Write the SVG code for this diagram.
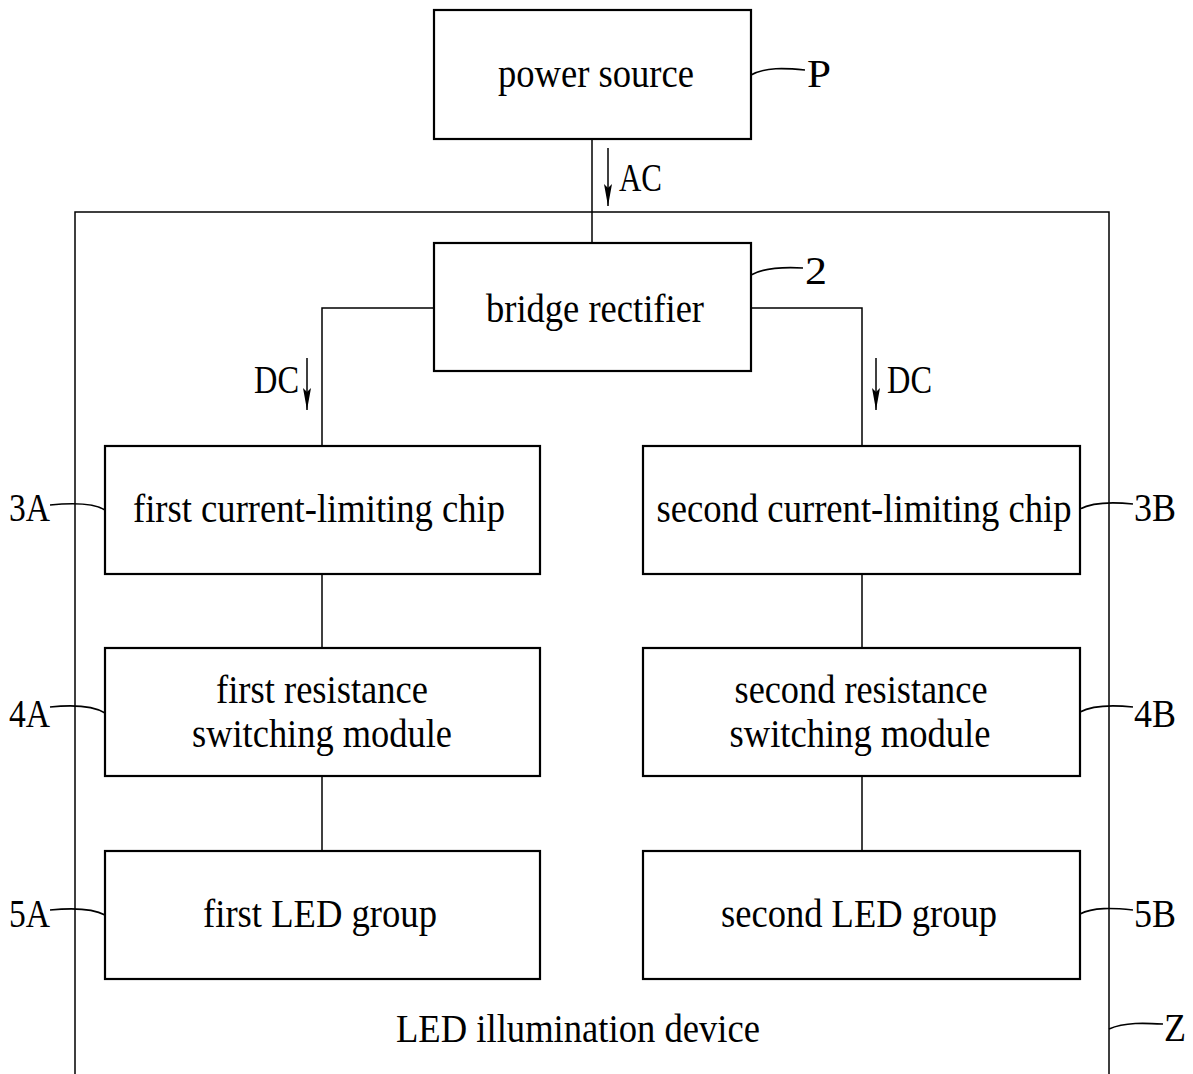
<svg xmlns="http://www.w3.org/2000/svg" width="1193" height="1074" viewBox="0 0 1193 1074">
<style>
.box{fill:#fff;stroke:#000;stroke-width:2.2}
.ln{fill:none;stroke:#000;stroke-width:1.5}
.ld{fill:none;stroke:#000;stroke-width:1.6}
text{font-family:"Liberation Serif","Times New Roman",serif;font-size:40px;fill:#000}
.c{text-anchor:middle}
</style>
<defs>
<marker id="ah" viewBox="0 0 22 8" refX="22" refY="4" markerWidth="22" markerHeight="8" markerUnits="userSpaceOnUse" orient="auto">
<path d="M0,0 L22,4 L0,8 L4,4 Z" fill="#000"/>
</marker>
</defs>
<rect width="1193" height="1074" fill="#fff"/>
<g id="Z">
<path class="ln" d="M75,1074 V212 H1109 V1074"/>
<text x="578" y="1042" class="c" textLength="364" lengthAdjust="spacingAndGlyphs">LED illumination device</text>
<path class="ld" d="M1109,1029 C1125,1022 1145,1023 1163,1024"/>
<text x="1164" y="1041" textLength="22" lengthAdjust="spacingAndGlyphs">Z</text>
</g>
<g id="connectors">
<line class="ln" x1="592" y1="139" x2="592" y2="243"/>
<path class="ln" d="M434,308 H322 V446"/>
<path class="ln" d="M751,308 H862 V446"/>
<line class="ln" x1="322" y1="574" x2="322" y2="648"/>
<line class="ln" x1="322" y1="776" x2="322" y2="851"/>
<line class="ln" x1="862" y1="574" x2="862" y2="648"/>
<line class="ln" x1="862" y1="776" x2="862" y2="851"/>
<line class="ln" x1="608" y1="148" x2="608" y2="206" marker-end="url(#ah)"/>
<text x="619" y="191" textLength="43" lengthAdjust="spacingAndGlyphs">AC</text>
<line class="ln" x1="307" y1="358" x2="307" y2="410" marker-end="url(#ah)"/>
<text x="254" y="393" textLength="45" lengthAdjust="spacingAndGlyphs">DC</text>
<line class="ln" x1="876" y1="358" x2="876" y2="410" marker-end="url(#ah)"/>
<text x="887" y="393" textLength="45" lengthAdjust="spacingAndGlyphs">DC</text>
</g>
<g id="P">
<rect class="box" x="434" y="10" width="317" height="129"/>
<text x="596" y="87" class="c" textLength="196" lengthAdjust="spacingAndGlyphs">power source</text>
<path class="ld" d="M751,75 C765,67 785,68 805,70"/>
<text x="807" y="87" textLength="24" lengthAdjust="spacingAndGlyphs">P</text>
</g>
<g id="n2">
<rect class="box" x="434" y="243" width="317" height="128"/>
<text x="595" y="322" class="c" textLength="218" lengthAdjust="spacingAndGlyphs">bridge rectifier</text>
<path class="ld" d="M751,275 C765,267 785,267 803,268"/>
<text x="805" y="284" textLength="22" lengthAdjust="spacingAndGlyphs">2</text>
</g>
<g id="n3A">
<rect class="box" x="105" y="446" width="435" height="128"/>
<text x="319" y="522" class="c" textLength="372" lengthAdjust="spacingAndGlyphs">first current-limiting chip</text>
<path class="ld" d="M105,510 C92,502 70,503 50,505"/>
<text x="9" y="521" textLength="41" lengthAdjust="spacingAndGlyphs">3A</text>
</g>
<g id="n3B">
<rect class="box" x="643" y="446" width="437" height="128"/>
<text x="864" y="522" class="c" textLength="415" lengthAdjust="spacingAndGlyphs">second current-limiting chip</text>
<path class="ld" d="M1080,509 C1093,502 1113,502 1133,504"/>
<text x="1134" y="521" textLength="42" lengthAdjust="spacingAndGlyphs">3B</text>
</g>
<g id="n4A">
<rect class="box" x="105" y="648" width="435" height="128"/>
<text x="322" y="703" class="c" textLength="212" lengthAdjust="spacingAndGlyphs">first resistance</text>
<text x="322" y="747" class="c" textLength="260" lengthAdjust="spacingAndGlyphs">switching module</text>
<path class="ld" d="M105,713 C92,705 70,705 50,707"/>
<text x="9" y="727" textLength="41" lengthAdjust="spacingAndGlyphs">4A</text>
</g>
<g id="n4B">
<rect class="box" x="643" y="648" width="437" height="128"/>
<text x="861" y="703" class="c" textLength="253" lengthAdjust="spacingAndGlyphs">second resistance</text>
<text x="860" y="747" class="c" textLength="261" lengthAdjust="spacingAndGlyphs">switching module</text>
<path class="ld" d="M1080,712 C1093,705 1113,705 1133,707"/>
<text x="1134" y="727" textLength="42" lengthAdjust="spacingAndGlyphs">4B</text>
</g>
<g id="n5A">
<rect class="box" x="105" y="851" width="435" height="128"/>
<text x="320" y="927" class="c" textLength="234" lengthAdjust="spacingAndGlyphs">first LED group</text>
<path class="ld" d="M105,915 C92,908 70,908 50,910"/>
<text x="9" y="927" textLength="41" lengthAdjust="spacingAndGlyphs">5A</text>
</g>
<g id="n5B">
<rect class="box" x="643" y="851" width="437" height="128"/>
<text x="859" y="927" class="c" textLength="276" lengthAdjust="spacingAndGlyphs">second LED group</text>
<path class="ld" d="M1080,914 C1093,907 1113,908 1133,910"/>
<text x="1134" y="927" textLength="42" lengthAdjust="spacingAndGlyphs">5B</text>
</g>
</svg>
